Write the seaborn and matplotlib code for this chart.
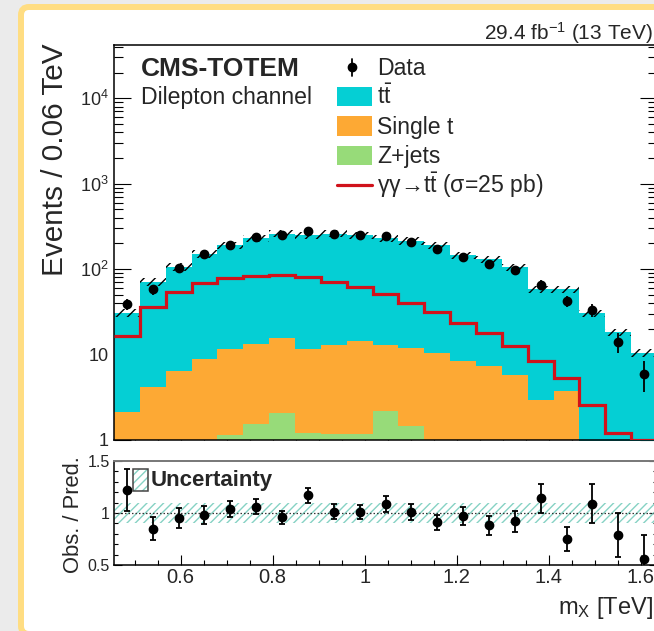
import numpy as np
import pandas as pd
import matplotlib
matplotlib.use("Agg")
import matplotlib.pyplot as plt
import seaborn as sns
from matplotlib.patches import FancyBboxPatch, Rectangle
from matplotlib.lines import Line2D
from matplotlib.transforms import Affine2D
from matplotlib.ticker import (MultipleLocator, LogLocator, FuncFormatter,
                               NullFormatter, FixedLocator)

# ---------------- data ----------------
x_start = 0.455          # TeV, first bin edge
bin_width = 0.0562       # TeV
n_bins = 21

ttbar = [28.7, 67.0, 99.5, 143.0, 179.5, 215.0, 245.0, 238.5, 248.0, 235.5, 216.0,
         202.0, 180.5, 137.5, 122.5, 100.0, 55.0, 54.3, 29.7, 17.8, 10.2]
single_t = [2.1, 4.1, 6.4, 8.7, 10.4, 11.8, 13.6, 10.3, 11.7, 13.2, 10.7,
            10.6, 10.0, 8.2, 7.1, 5.5, 2.7, 3.6, 0.6, 0.4, 0.3]
zjets = [0.05, 0.05, 0.1, 0.1, 1.14, 1.54, 2.09, 1.2, 1.17, 1.17, 2.2,
         1.46, 0.3, 0.3, 0.3, 0.25, 0.2, 0.15, 0.0, 0.0, 0.0]
signal = [16.6, 36.2, 54.0, 68.0, 78.0, 83.0, 85.0, 81.0, 71.0, 61.0, 50.6,
          39.7, 31.7, 23.2, 17.7, 12.6, 8.4, 5.3, 2.6, 1.2, 1.0]
data = [39.0, 58.0, 102.0, 150.0, 192.0, 239.0, 254.0, 280.0, 261.0, 248.0, 242.0,
        205.0, 174.0, 140.0, 114.0, 97.0, 66.0, 42.6, 33.0, 14.1, 6.0]
data_err = [6.2, 7.6, 10.1, 12.2, 13.8, 15.5, 15.9, 16.7, 16.2, 15.7, 15.5,
            14.3, 13.2, 11.8, 10.7, 9.8, 8.1, 6.5, 5.7, 3.8, 2.4]
ratio = [1.22, 0.85, 0.95, 0.98, 1.04, 1.06, 0.96, 1.17, 1.01, 1.01, 1.09,
         1.01, 0.91, 0.97, 0.88, 0.92, 1.14, 0.75, 1.09, 0.79, 0.56]
ratio_err = [0.20, 0.11, 0.095, 0.085, 0.078, 0.072, 0.064, 0.075, 0.072, 0.070, 0.077,
             0.077, 0.075, 0.083, 0.088, 0.098, 0.143, 0.117, 0.19, 0.21, 0.23]
rel_unc = [0.10, 0.10, 0.10, 0.10, 0.10, 0.10, 0.10, 0.10, 0.10, 0.10, 0.10,
           0.10, 0.10, 0.10, 0.10, 0.10, 0.10, 0.10, 0.10, 0.10, 0.10]

proc_names = ["ttbar", "single_t", "zjets"]
proc_colors = {"ttbar": "#05CFD4", "single_t": "#FDA934", "zjets": "#97DB79"}
sig_color = "#D0121B"
band_color = "#86D2C4"

x_ticks = [0.6, 0.8, 1.0, 1.2, 1.4, 1.6]
ratio_ticks = [0.5, 1.0, 1.5]

edges = x_start + bin_width * np.arange(n_bins + 1)
centers = 0.5 * (edges[:-1] + edges[1:])

# ---------------- style ----------------
sns.set_theme(style="ticks")
plt.rcParams["font.family"] = ["Liberation Sans", "DejaVu Sans"]
plt.rcParams["mathtext.fontset"] = "custom"
plt.rcParams["mathtext.rm"] = "Liberation Sans"
plt.rcParams["mathtext.it"] = "Liberation Sans:italic"
plt.rcParams["mathtext.bf"] = "Liberation Sans:bold"
plt.rcParams["hatch.linewidth"] = 1.0
plt.rcParams["axes.linewidth"] = 1.1

W, H = 654, 631
fig = plt.figure(figsize=(W / 100, H / 100), dpi=100)
fig.patch.set_facecolor("#EBEBEB")

# yellow rounded frame (pixel coordinates)
pix = Affine2D().scale(1 / 100) + fig.dpi_scale_trans
frame = FancyBboxPatch((21, -3), 660, 627, boxstyle="round,pad=0,rounding_size=8",
                       transform=pix, facecolor="white", edgecolor="#FFDD82",
                       linewidth=4.3, zorder=-5)
fig.patches.append(frame)

ax1 = fig.add_axes([114 / W, 191 / H, 543 / W, 395 / H])
ax2 = fig.add_axes([114 / W, 66 / H, 543 / W, 104 / H])

# ---------------- top panel ----------------
df = pd.DataFrame({
    "mx": np.tile(centers, 3),
    "events": np.concatenate([ttbar, single_t, zjets]),
    "process": np.repeat(proc_names, n_bins),
})
sns.histplot(data=df, x="mx", weights="events", hue="process", hue_order=proc_names,
             multiple="stack", bins=edges.tolist(), element="step", fill=True, alpha=1,
             palette=proc_colors, linewidth=0, legend=False, ax=ax1)

total = np.array(ttbar) + np.array(single_t) + np.array(zjets)
unc = np.array(rel_unc)
lo = total * (1 - unc)
hi = total * (1 + unc)
ax1.fill_between(edges, np.append(lo, lo[-1]), np.append(hi, hi[-1]), step="post",
                 facecolor="none", edgecolor="black", hatch="///", linewidth=0, zorder=3)

ax1.stairs(signal, edges, baseline=None, color=sig_color, linewidth=2.3, zorder=4)
ax1.errorbar(centers, data, yerr=data_err, fmt="o", color="black", ms=6,
             elinewidth=1.3, capsize=0, zorder=6)

ax1.set_yscale("log")
ax1.set_xlim(edges[0], edges[-1])
ax1.set_ylim(1, 4.2e4)
ax1.set_xlabel("")
ax1.set_ylabel("Events / 0.06 TeV", fontsize=21.4, loc="top")
ax1.yaxis.set_label_coords(-0.083, 1.003)


def log_fmt(v, p):
    if abs(v - 1) < 1e-9:
        return "1"
    if abs(v - 10) < 1e-9:
        return "10"
    return r"$10^{%d}$" % round(np.log10(v))


ax1.yaxis.set_major_locator(LogLocator(base=10, numticks=10))
ax1.yaxis.set_minor_locator(LogLocator(base=10, subs=np.arange(2, 10), numticks=20))
ax1.yaxis.set_major_formatter(FuncFormatter(log_fmt))
ax1.yaxis.set_minor_formatter(NullFormatter())
ax1.xaxis.set_major_locator(FixedLocator(x_ticks))
ax1.xaxis.set_minor_locator(MultipleLocator(0.05))
ax1.tick_params(axis="y", which="major", direction="in", length=12, width=0.8,
                left=True, right=True, labelsize=13, pad=4, color="black")
ax1.tick_params(axis="y", which="minor", direction="in", length=6.5, width=0.8,
                left=True, right=True, color="black")
ax1.tick_params(axis="x", which="major", direction="in", length=7, width=0.8,
                bottom=True, top=False, labelbottom=False, color="black")
ax1.tick_params(axis="x", which="minor", direction="in", length=3.6, width=0.8,
                bottom=True, top=False, color="black")
for s in ax1.spines.values():
    s.set_color("black")
    s.set_linewidth(1.1)

# texts
def px(x, y):
    """pixel position in the image -> ax1 axes coordinates"""
    return (x - 114) / 543, (440 - y) / 395

ax1.text(*px(141, 76), "CMS-TOTEM", fontsize=19, fontweight="bold", transform=ax1.transAxes,
         va="baseline", ha="left")
ax1.text(*px(141, 104), "Dilepton channel", fontsize=16.6, transform=ax1.transAxes,
         va="baseline", ha="left")
ax1.text(*px(653, 40), r"29.4 fb$^{\mathregular{-1}}$ (13 TeV)", fontsize=15,
         transform=ax1.transAxes, ha="right", va="baseline")

# legend (manual)
leg_x0, leg_x1, text_x = 337, 372, 377
bx0, _ = px(leg_x0, 0)
bx1, _ = px(leg_x1, 0)
tx, _ = px(text_x, 0)
rows = [("Data", 75), (r"$\mathrm{t\bar{t}}$", 104.5), ("Single t", 134),
        ("Z+jets", 163.5), ("γγ→" + r"$\mathrm{t\bar{t}}$" + " (σ=25 pb)", 193)]
for label, base in rows:
    ax1.text(tx, px(0, base)[1], label, fontsize=16.6, transform=ax1.transAxes,
             va="baseline", ha="left")
# data symbol
mx_, my_ = px(352, 67)
ax1.add_line(Line2D([mx_, mx_], [px(0, 59)[1], px(0, 76)[1]], color="black", lw=1.3,
                    transform=ax1.transAxes))
ax1.add_line(Line2D([mx_], [my_], marker="o", ms=6, color="black", transform=ax1.transAxes))
for key, base in zip(proc_names, [104.5, 134, 163.5]):
    yb = px(0, base - 8 + 9.5)[1]
    yt = px(0, base - 8 - 9.5)[1]
    ax1.add_patch(Rectangle((bx0, yb), bx1 - bx0, yt - yb, facecolor=proc_colors[key],
                            edgecolor="none", transform=ax1.transAxes, zorder=7))
ys = px(0, 185)[1]
ax1.add_line(Line2D([bx0, bx1], [ys, ys], color=sig_color, lw=2.3, transform=ax1.transAxes))

# ---------------- ratio panel ----------------
rlo = 1 - unc
rhi = 1 + unc
ax2.fill_between(edges, np.append(rlo, rlo[-1]), np.append(rhi, rhi[-1]), step="post",
                 facecolor="none", edgecolor=band_color, hatch="////", linewidth=0, zorder=1)
ax2.axhline(1.0, color="#333333", lw=0.9, ls=(0, (1.2, 1.6)), zorder=2)
ax2.errorbar(centers, ratio, yerr=ratio_err, fmt="o", color="black", ms=6,
             elinewidth=1.3, capsize=2.5, capthick=1.3, zorder=5)

ax2.set_xlim(edges[0], edges[-1])
ax2.set_ylim(0.5, 1.5)
ax2.xaxis.set_major_locator(FixedLocator(x_ticks))
ax2.xaxis.set_minor_locator(MultipleLocator(0.05))
ax2.xaxis.set_major_formatter(FuncFormatter(lambda v, p: "%g" % round(v, 3)))
ax2.yaxis.set_major_locator(FixedLocator(ratio_ticks))
ax2.yaxis.set_minor_locator(MultipleLocator(0.1))
ax2.yaxis.set_major_formatter(FuncFormatter(lambda v, p: "%g" % round(v, 3)))
ax2.tick_params(axis="x", which="major", direction="in", length=7, width=0.8,
                labelsize=14.5, pad=2, top=False, color="black")
ax2.tick_params(axis="x", which="minor", direction="in", length=3.6, width=0.8,
                top=False, color="black")
ax2.tick_params(axis="y", which="major", direction="in", length=5.5, width=0.8,
                labelsize=11.5, pad=3, right=True, color="black")
ax2.tick_params(axis="y", which="minor", direction="in", length=3, width=0.8,
                right=True, color="black")
for s in ax2.spines.values():
    s.set_color("black")
    s.set_linewidth(1.1)
ax2.spines["top"].set_color("#777777")
ax2.spines["top"].set_linestyle((0, (1, 1)))
ax2.spines["top"].set_linewidth(1.4)

ax2.set_ylabel("Obs. / Pred.", fontsize=15.8)
ax2.yaxis.set_label_coords(-0.055, 0.48)
ax2.set_xlabel(r"m$_{\mathrm{X}}$ [TeV]", fontsize=17, loc="right")
ax2.xaxis.set_label_coords((653 - 114) / 543, -0.29)

# uncertainty legend entry
ub0, ub1 = (133 - 114) / 543, (148 - 114) / 543
uy0, uy1 = (565 - 491) / 104, (565 - 469) / 104
ax2.add_patch(Rectangle((ub0, uy0), ub1 - ub0, uy1 - uy0, facecolor="none",
                        edgecolor=band_color, hatch="////", linewidth=0,
                        transform=ax2.transAxes, zorder=6))
ax2.add_patch(Rectangle((ub0, uy0), ub1 - ub0, uy1 - uy0, facecolor="none",
                        edgecolor="#444444", linewidth=1.1,
                        transform=ax2.transAxes, zorder=7))
ax2.text((151 - 114) / 543, (565 - 486) / 104, "Uncertainty", fontsize=16,
         fontweight="bold", transform=ax2.transAxes, va="baseline", ha="left")

fig.savefig("out.png", dpi=100, facecolor=fig.get_facecolor())
